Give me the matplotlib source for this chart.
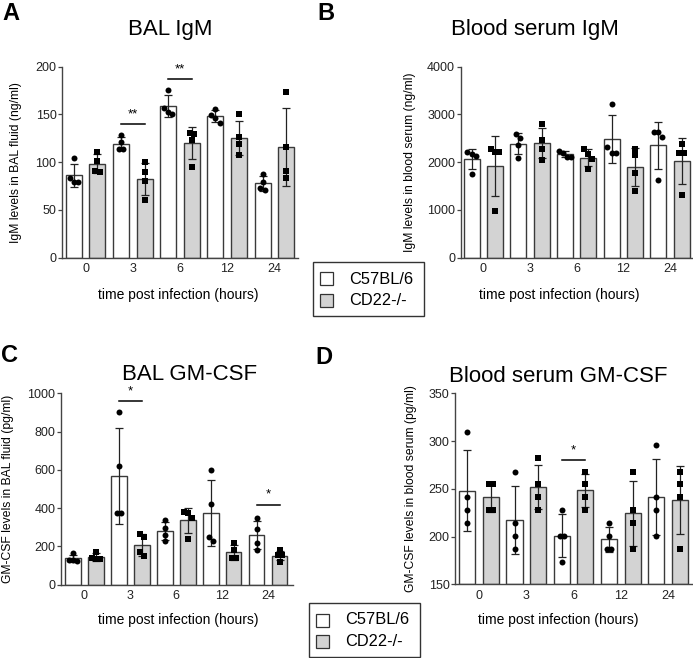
import numpy as np
import matplotlib
matplotlib.use('Agg')
import matplotlib.pyplot as plt
from matplotlib.patches import Rectangle

plt.rcParams['font.family'] = ['Liberation Sans', 'DejaVu Sans']

W, H = 693, 658

times = ['0', '3', '6', '12', '24']
groups = ['C57BL/6', 'CD22-/-']

# values per time point (4 mice each)
bal_igm_wt = [[104, 83, 79, 79], [128, 121, 114, 114], [176, 157, 150, 153],
              [156, 141, 146, 149], [88, 79, 71, 73]]
bal_igm_ko = [[111, 101, 90, 91], [100, 90, 80, 60], [130, 131, 123, 95],
              [150, 126, 119, 108], [173, 116, 91, 83]]

serum_igm_wt = [[2170, 2130, 2210, 1750], [2500, 2600, 2360, 2090], [2200, 2235, 2115, 2115],
                [3225, 2310, 2200, 2200], [2625, 2625, 2535, 1620]]
serum_igm_ko = [[2205, 2205, 2275, 975], [2795, 2470, 2270, 2050], [2275, 2170, 2065, 1855],
                [2275, 2145, 1775, 1405], [2385, 2200, 2200, 1320]]

bal_gmcsf_wt = [[165, 130, 128, 126], [900, 620, 374, 377], [336, 298, 260, 230],
                [600, 424, 250, 226], [350, 290, 217, 183]]
bal_gmcsf_ko = [[172, 142, 132, 132], [263, 250, 169, 148], [374, 379, 350, 240],
                [217, 179, 140, 137], [183, 153, 153, 120]]

serum_gmcsf_wt = [[309, 241.5, 228, 214], [268, 214, 201, 187], [228, 201, 201, 173.5],
                  [214, 201, 187, 187], [295.5, 228, 241.5, 201]]
serum_gmcsf_ko = [[255.5, 255.5, 228, 228], [282, 255.5, 241.5, 228], [268, 255.5, 241.5, 228],
                  [268, 228, 214, 187], [268, 255.5, 241.5, 187]]

# significance: (bar index from, bar index to, line height, label)
sig_bal_igm = [(2, 3, 140, '**'), (4, 5, 187, '**')]
sig_bal_gmcsf = [(2, 3, 958, '*'), (8, 9, 419, '*')]
sig_serum_gmcsf = [(4, 5, 280, '*')]


def fx(x):
    return x / W


def fy(y):
    return 1 - y / H


def spread(vals, span, step=0.18):
    # put close points side by side, like a prism scatter
    order = np.argsort(vals)[::-1]
    offs = np.zeros(len(vals))
    clusters = []
    for i in order:
        if clusters and abs(vals[clusters[-1][-1]] - vals[i]) < span * 0.03:
            clusters[-1].append(i)
        else:
            clusters.append([i])
    for c in clusters:
        for k, i in enumerate(c):
            offs[i] = (k - (len(c) - 1) / 2) * step
    return offs


def panel(box, wt, ko, ylim, yticks, xlim, ylabel, ylab_x, xlab_xy, sigs=()):
    l, r, t, b = box
    ax = fig.add_axes([fx(l), fy(b), fx(r - l), (b - t) / H])
    span = ylim[1] - ylim[0]
    for i in range(len(times)):
        for j, (vals, fill, mk) in enumerate([(wt[i], 'white', 'o'), (ko[i], '#d3d3d3', 's')]):
            x = 2 * i + j
            vals = np.array(vals, float)
            m, sd = vals.mean(), vals.std(ddof=1)
            ax.bar(x, m - ylim[0], bottom=ylim[0], width=0.68, color=fill,
                   edgecolor='#3a3a3a', linewidth=1.0, zorder=1)
            ax.errorbar(x, m, yerr=sd, color='#222222', capsize=3.2,
                        elinewidth=0.9, capthick=0.9, zorder=2)
            ax.plot(x + spread(vals, span), vals, mk, color='black', ms=4.3,
                    mew=0, zorder=3)
    for a, bb, y, lab in sigs:
        ax.plot([a, bb], [y, y], color='black', lw=1.1, clip_on=False)
        ax.text((a + bb) / 2, y + span * 0.02, lab, ha='center', va='bottom',
                fontsize=9.5)
    ax.set_xlim(xlim)
    ax.set_ylim(ylim)
    ax.set_yticks(yticks)
    ax.set_xticks([2 * i + 0.5 for i in range(len(times))])
    ax.set_xticklabels(times)
    for s in ['top', 'right']:
        ax.spines[s].set_visible(False)
    for s in ['left', 'bottom']:
        ax.spines[s].set_color('#444444')
        ax.spines[s].set_linewidth(1.0)
    ax.tick_params(axis='y', length=3, width=0.9, pad=1, labelsize=9,
                   colors='#444444', labelcolor='#222222')
    ax.tick_params(axis='x', length=0, pad=4, labelsize=9, labelcolor='#222222')
    ax.set_ylabel(ylabel, fontsize=8.7)
    ax.yaxis.set_label_coords(fx(ylab_x), 0.5 * (fy(t) + fy(b)), transform=fig.transFigure)
    ax.set_xlabel('time post infection (hours)', fontsize=10)
    ax.xaxis.set_label_coords(fx(xlab_xy[0]), fy(xlab_xy[1]), transform=fig.transFigure)
    return ax


def legend(x0, y0):
    # box 111 x 54 px, squares 13 px
    fig.add_artist(Rectangle((fx(x0), fy(y0 + 54)), fx(111), 54 / H, transform=fig.transFigure,
                             facecolor='white', edgecolor='#333333', lw=1.0))
    for k, (lab, fill) in enumerate(zip(groups, ['white', '#d3d3d3'])):
        yc = y0 + 17 + k * 21.5
        fig.add_artist(Rectangle((fx(x0 + 7), fy(yc + 6.5)), fx(13), 13 / H,
                                 transform=fig.transFigure, facecolor=fill,
                                 edgecolor='#333333', lw=0.9))
        fig.text(fx(x0 + 36), fy(yc), lab, fontsize=11.8, va='center', ha='left')


fig = plt.figure(figsize=(W / 100, H / 100), dpi=100)

panel((62, 298, 66.7, 257.7), bal_igm_wt, bal_igm_ko, (0, 200), [0, 50, 100, 150, 200],
      (-0.5, 9.5), 'IgM levels in BAL fluid (ng/ml)', 22, (178, 288), sig_bal_igm)
panel((460.7, 693, 66.7, 257.7), serum_igm_wt, serum_igm_ko, (0, 4000),
      [0, 1000, 2000, 3000, 4000], (-0.47, 9.49), 'IgM levels in blood serum (ng/ml)',
      416, (559, 288))
panel((61, 293, 393.3, 584.7), bal_gmcsf_wt, bal_gmcsf_ko, (0, 1000),
      [0, 200, 400, 600, 800, 1000], (-0.51, 9.58), 'GM-CSF levels in BAL fluid (pg/ml)',
      14, (178, 613), sig_bal_gmcsf)
panel((455, 693, 393.3, 584.3), serum_gmcsf_wt, serum_gmcsf_ko, (150, 350),
      [150, 200, 250, 300, 350], (-0.52, 9.56), 'GM-CSF levels in blood serum (pg/ml)',
      417, (558, 613), sig_serum_gmcsf)

# titles and panel letters
for txt, x, y in [('BAL IgM', 170, 30), ('Blood serum IgM', 535, 30),
                  ('BAL GM-CSF', 190, 375), ('Blood serum GM-CSF', 558, 376)]:
    fig.text(fx(x), fy(y), txt, fontsize=16, ha='center', va='center')
for txt, x, y in [('A', 2, 14), ('B', 317, 14), ('C', 1, 356), ('D', 315, 358)]:
    fig.text(fx(x), fy(y), txt, fontsize=17, fontweight='bold', ha='left', va='center')

legend(313, 262)
legend(309, 603)

fig.savefig('out.png', dpi=100)
